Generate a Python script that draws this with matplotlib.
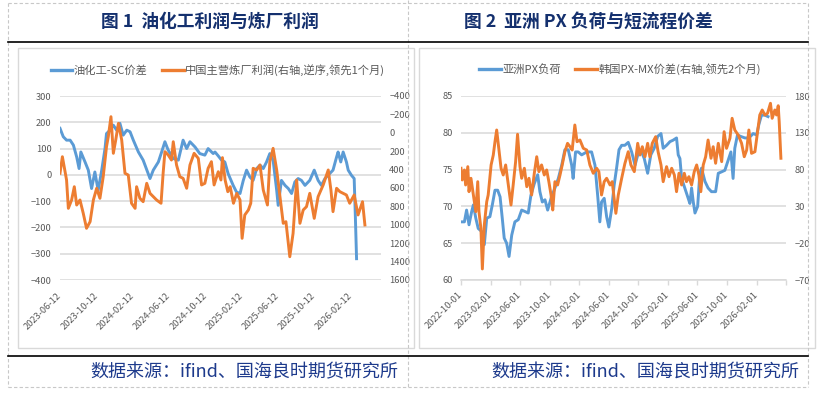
import matplotlib
matplotlib.use("Agg")
import matplotlib.pyplot as plt
import pandas as pd
from matplotlib.lines import Line2D
from matplotlib.patches import Rectangle

plt.rcParams["font.family"] = ["Noto Sans CJK SC", "DejaVu Sans"]

############ Data: 图1 油化工利润与炼厂利润
spread_dates = [
    "2023-06-12", "2023-06-23", "2023-07-04", "2023-07-16", "2023-07-27", "2023-08-07",
    "2023-08-15", "2023-08-21", "2023-09-04", "2023-09-15", "2023-09-26", "2023-10-07",
    "2023-10-18", "2023-10-30", "2023-11-10", "2023-11-15", "2023-11-27", "2023-12-08",
    "2023-12-19", "2023-12-30", "2024-01-10", "2024-01-22", "2024-02-02", "2024-02-13",
    "2024-03-01", "2024-03-17", "2024-04-09", "2024-04-20", "2024-05-07", "2024-05-18",
    "2024-05-29", "2024-06-09", "2024-06-26", "2024-07-13", "2024-07-29", "2024-08-10",
    "2024-08-21", "2024-09-07", "2024-09-23", "2024-10-10", "2024-10-21", "2024-11-07",
    "2024-11-13", "2024-11-24", "2024-12-05", "2024-12-16", "2024-12-27", "2025-01-13",
    "2025-01-24", "2025-02-05", "2025-02-16", "2025-02-27", "2025-03-10", "2025-03-21",
    "2025-04-02", "2025-04-13", "2025-04-24", "2025-05-05", "2025-05-16", "2025-05-27",
    "2025-06-08", "2025-06-13", "2025-06-24", "2025-07-06", "2025-07-17", "2025-07-28",
    "2025-08-08", "2025-08-19", "2025-08-30", "2025-09-11", "2025-09-27", "2025-10-12",
    "2025-10-25", "2025-11-05", "2025-11-17", "2025-12-03", "2025-12-14", "2025-12-26",
    "2025-12-31", "2026-01-09", "2026-01-17", "2026-01-28", "2026-02-03", "2026-02-14",
    "2026-02-23", "2026-02-27", "2026-03-03",
]
spread_vals = [
    177, 145, 132, 132, 113, 68,
    24, 87, 49, 18, -52, 11,
    -59, 18, 100, 157, 170, 189,
    170, 196, 151, 170, 164, 132,
    87, 56, -14, 18, 49, 87,
    126, 94, 62, 56, 132, 100,
    126, 106, 81, 75, 100, 81,
    87, 72, 56, 49, 5, -40,
    -65, -71, -21, 18, -8, -21,
    24, 37, 24, 49, 81, 56,
    -59, -116, -21, -40, -52, -71,
    -27, -14, -21, -40, -21, 18,
    -21, -40, -14, 5, 18, 68,
    87, 49, 87, 49, 18, -2,
    -14, -160, -319,
]

refinery_dates = [
    "2023-06-12", "2023-06-20", "2023-07-04", "2023-07-10", "2023-07-21", "2023-07-30",
    "2023-08-07", "2023-08-18", "2023-08-29", "2023-09-09", "2023-09-21", "2023-10-02",
    "2023-10-13", "2023-10-24", "2023-11-04", "2023-11-15", "2023-11-21", "2023-11-30",
    "2023-12-08", "2023-12-16", "2023-12-25", "2024-01-05", "2024-01-16", "2024-01-27",
    "2024-02-07", "2024-02-19", "2024-02-24", "2024-03-06", "2024-03-17", "2024-03-29",
    "2024-04-09", "2024-04-20", "2024-05-01", "2024-05-16", "2024-05-23", "2024-05-29",
    "2024-06-09", "2024-06-20", "2024-06-26", "2024-07-07", "2024-07-18", "2024-07-29",
    "2024-08-10", "2024-08-21", "2024-09-04", "2024-09-18", "2024-09-29", "2024-10-10",
    "2024-10-21", "2024-11-01", "2024-11-10", "2024-11-24", "2024-12-03", "2024-12-08",
    "2024-12-17", "2024-12-26", "2025-01-03", "2025-01-14", "2025-01-25", "2025-02-05",
    "2025-02-12", "2025-02-21", "2025-03-05", "2025-03-13", "2025-03-21", "2025-04-02",
    "2025-04-13", "2025-04-24", "2025-05-08", "2025-05-16", "2025-05-27", "2025-06-08",
    "2025-06-19", "2025-06-30", "2025-07-09", "2025-07-22", "2025-08-02", "2025-08-14",
    "2025-08-25", "2025-09-05", "2025-09-16", "2025-09-27", "2025-10-12", "2025-10-25",
    "2025-11-11", "2025-11-28", "2025-12-07", "2025-12-14", "2025-12-26", "2026-01-06",
    "2026-01-17", "2026-01-28", "2026-02-08", "2026-02-23", "2026-03-08", "2026-03-23",
    "2026-03-31",
]
refinery_vals = [
    440, 260, 513, 821, 730, 586,
    785, 730, 875, 1038, 966, 730,
    603, 712, 477, 151, 42, -175,
    223, 78, -103, 78, 440, 459,
    766, 821, 586, 712, 749, 549,
    658, 694, 730, 766, 440, 205,
    241, 296, 97, 350, 477, 495,
    603, 350, 223, 278, 567, 549,
    386, 314, 567, 423, 513, 270,
    513, 640, 586, 766, 658, 730,
    1147, 893, 839, 766, 386, 404,
    350, 622, 785, 314, 169, 404,
    694, 984, 966, 1347, 1093, 513,
    984, 839, 803, 658, 930, 694,
    567, 404, 622, 857, 603, 640,
    658, 676, 766, 676, 893, 749,
    1002,
]
left_xticks = ["2023-06-12", "2023-10-12", "2024-02-12", "2024-06-12", "2024-10-12",
               "2025-02-12", "2025-06-12", "2025-10-12", "2026-02-12"]

############ Data: 图2 亚洲PX负荷与短流程价差
px_load_dates = [
    "2022-10-01", "2022-10-15", "2022-10-24", "2022-11-03", "2022-11-14", "2022-11-21",
    "2022-12-01", "2022-12-11", "2022-12-25", "2023-01-05", "2023-01-15", "2023-01-28",
    "2023-02-07", "2023-02-18", "2023-03-01", "2023-03-11", "2023-03-20", "2023-03-28",
    "2023-04-07", "2023-04-17", "2023-04-28", "2023-05-11", "2023-05-25", "2023-06-08",
    "2023-06-22", "2023-07-05", "2023-07-16", "2023-07-30", "2023-08-13", "2023-08-22",
    "2023-09-01", "2023-09-12", "2023-09-23", "2023-10-07", "2023-10-23", "2023-11-06",
    "2023-11-20", "2023-12-03", "2023-12-17", "2023-12-31", "2024-01-06", "2024-01-16",
    "2024-01-27", "2024-02-10", "2024-03-02", "2024-03-22", "2024-04-05", "2024-04-16",
    "2024-04-25", "2024-05-02", "2024-05-13", "2024-05-23", "2024-06-01", "2024-06-13",
    "2024-06-23", "2024-07-03", "2024-07-13", "2024-07-24", "2024-08-06", "2024-08-20",
    "2024-09-03", "2024-09-17", "2024-09-30", "2024-10-14", "2024-10-25", "2024-11-08",
    "2024-11-21", "2024-12-05", "2024-12-19", "2025-01-02", "2025-01-11", "2025-01-25",
    "2025-02-08", "2025-02-21", "2025-03-07", "2025-03-14", "2025-03-21", "2025-03-28",
    "2025-04-10", "2025-04-24", "2025-05-01", "2025-05-08", "2025-05-15", "2025-05-22",
    "2025-06-02", "2025-06-11", "2025-06-18", "2025-07-02", "2025-07-15", "2025-07-29",
    "2025-08-15", "2025-08-26", "2025-09-09", "2025-09-22", "2025-10-06", "2025-10-17",
    "2025-10-26", "2025-11-02", "2025-11-13", "2025-11-27", "2025-12-14", "2025-12-30",
    "2026-01-17", "2026-01-31", "2026-02-09", "2026-02-20", "2026-03-06", "2026-03-19",
]
px_load_vals = [
    67.9, 67.9, 69.5, 67.5, 69.3, 70.2,
    68.4, 67.0, 66.6, 64.8, 68.4, 68.6,
    70.2, 72.2, 72.2, 71.3, 68.4, 65.7,
    65.0, 63.2, 66.1, 67.9, 68.2, 69.5,
    69.3, 69.1, 71.5, 73.1, 74.3, 72.0,
    70.6, 70.9, 69.5, 71.1, 72.5, 73.8,
    75.6, 77.7, 77.7, 75.6, 73.8, 77.4,
    77.4, 77.0, 77.4, 77.4, 75.6, 71.5,
    67.9, 70.6, 71.1, 68.6, 67.2, 69.7,
    72.9, 75.2, 77.7, 78.3, 78.3, 78.7,
    77.4, 75.6, 77.2, 77.4, 76.5, 74.5,
    77.0, 77.9, 79.5, 79.9, 77.9, 78.3,
    78.8, 79.0, 79.3, 77.0, 76.5, 73.8,
    72.5, 71.1, 70.4, 72.5, 70.6, 69.1,
    70.0, 74.5, 75.2, 73.4, 72.5, 72.0,
    72.0, 74.5, 74.7, 74.9, 76.3, 77.4,
    73.8, 77.9, 79.7, 79.5, 79.3, 79.3,
    79.9, 79.7, 81.1, 82.4, 82.4, 82.2,
]

pxmx_dates = [
    "2022-10-01", "2022-10-06", "2022-10-15", "2022-10-20", "2022-10-29", "2022-11-03",
    "2022-11-11", "2022-11-21", "2022-12-01", "2022-12-09", "2022-12-14", "2022-12-22",
    "2022-12-28", "2023-01-05", "2023-01-15", "2023-01-21", "2023-02-02", "2023-02-11",
    "2023-02-18", "2023-02-25", "2023-03-04", "2023-03-15", "2023-03-24", "2023-04-03",
    "2023-04-14", "2023-04-25", "2023-05-04", "2023-05-14", "2023-05-22", "2023-06-01",
    "2023-06-08", "2023-06-19", "2023-06-29", "2023-07-08", "2023-07-19", "2023-07-30",
    "2023-08-09", "2023-08-18", "2023-08-29", "2023-09-09", "2023-09-19", "2023-09-28",
    "2023-10-07", "2023-10-14", "2023-10-23", "2023-11-03", "2023-11-13", "2023-11-22",
    "2023-12-03", "2023-12-14", "2023-12-24", "2024-01-02", "2024-01-13", "2024-01-22",
    "2024-02-03", "2024-02-17", "2024-03-02", "2024-03-15", "2024-03-29", "2024-04-12",
    "2024-04-21", "2024-05-02", "2024-05-13", "2024-05-23", "2024-06-06", "2024-06-15",
    "2024-06-23", "2024-06-30", "2024-07-10", "2024-07-24", "2024-08-06", "2024-08-20",
    "2024-08-31", "2024-09-14", "2024-09-28", "2024-10-07", "2024-10-17", "2024-10-28",
    "2024-11-08", "2024-11-17", "2024-11-27", "2024-12-11", "2024-12-21", "2025-01-02",
    "2025-01-11", "2025-01-25", "2025-02-04", "2025-02-15", "2025-02-26", "2025-03-07",
    "2025-03-17", "2025-03-28", "2025-04-08", "2025-04-17", "2025-04-27", "2025-05-08",
    "2025-05-19", "2025-05-29", "2025-06-07", "2025-06-15", "2025-06-25", "2025-07-05",
    "2025-07-15", "2025-07-27", "2025-08-05", "2025-08-15", "2025-08-26", "2025-09-09",
    "2025-09-19", "2025-09-29", "2025-10-13", "2025-10-22", "2025-11-02", "2025-11-16",
    "2025-11-30", "2025-12-11", "2025-12-21", "2025-12-30", "2026-01-10", "2026-01-24",
    "2026-02-04", "2026-02-13", "2026-02-23", "2026-03-06", "2026-03-17", "2026-03-29",
    "2026-04-05", "2026-04-16", "2026-04-23", "2026-04-30", "2026-05-04", "2026-05-11",
]
pxmx_vals = [
    81.8, 65.9, 79.5, 59.1, 84.0, 50.0,
    68.2, 45.5, 22.8, 63.6, 22.8, 0.2,
    -55.0, 4.7, 36.4, 45.5, 86.3, 99.8,
    117.9, 133.8, 113.4, 81.8, 72.7, 86.3,
    59.1, 31.9, 59.1, 90.8, 128.0, 84.0,
    68.2, 81.8, 56.8, 68.2, 45.5, 75.0,
    97.5, 77.2, 86.3, 72.7, 79.5, 63.6,
    45.5, 25.1, 63.6, 59.1, 72.7, 86.3,
    104.3, 115.7, 111.1, 106.6, 140.6, 117.9,
    120.2, 108.9, 106.6, 86.3, 75.0, 81.8,
    77.2, 45.5, 63.6, 68.2, 59.1, 63.6,
    41.0, 20.6, 45.5, 68.2, 88.0, 104.3,
    86.3, 77.2, 115.7, 99.8, 111.1, 97.5,
    115.7, 97.5, 115.7, 124.7, 104.3, 86.3,
    63.6, 84.0, 70.4, 81.8, 72.7, 50.0,
    75.0, 59.1, 75.0, 63.6, 70.4, 59.1,
    77.2, 86.3, 72.7, 50.0, 86.3, 97.5,
    120.2, 95.4, 111.1, 88.6, 115.7, 90.8,
    131.5, 108.9, 122.5, 149.7, 133.8, 127.0,
    115.7, 97.5, 106.6, 133.8, 102.1, 104.3,
    131.5, 154.2, 161.0, 154.2, 156.5, 170.1,
    149.7, 161.0, 154.2, 166.8, 145.1, 95.4,
]
right_xticks = ["2022-10-01", "2023-02-01", "2023-06-01", "2023-10-01", "2024-02-01",
                "2024-06-01", "2024-10-01", "2025-02-01", "2025-06-01", "2025-10-01",
                "2026-02-01"]

# --- Style ---
BLUE = "#5B9BD5"
ORANGE = "#ED7D31"
GRID = "#d9d9d9"
TICK_TEXT = "#595959"
TITLE_COLOR = "#14306e"
SOURCE_COLOR = "#1d3a8c"
LW = 2.1
TICK_FS = 6.7

W, H = 825, 396
fig = plt.figure(figsize=(W / 100, H / 100), dpi=100)


def fx(px):
    return px / W


def fy(py):
    return 1 - py / H


def add_ax(x0, y0, x1, y1):
    return fig.add_axes([fx(x0), fy(y1), (x1 - x0) / W, (y1 - y0) / H])


def hline(y, x0, x1, **kw):
    fig.add_artist(Line2D([fx(x0), fx(x1)], [fy(y), fy(y)], transform=fig.transFigure, **kw))


def vline(x, y0, y1, **kw):
    fig.add_artist(Line2D([fx(x), fx(x)], [fy(y0), fy(y1)], transform=fig.transFigure, **kw))


# --- page frame ---
dash = dict(color="#c8c8c8", lw=0.8, ls=(0, (3, 2)))
hline(3, 8, 808, **dash)
hline(387, 8, 808, **dash)
vline(8, 3, 387, **dash)
vline(408, 0, 387, **dash)
vline(808, 3, 387, **dash)
hline(42, 8, 808, color="black", lw=1.2)
hline(356, 8, 808, color="black", lw=1.2)
for x0, x1 in [(18, 414), (419, 815)]:
    fig.add_artist(Rectangle((fx(x0), fy(348)), (x1 - x0) / W, 300 / H,
                             transform=fig.transFigure, fill=False, ec=GRID, lw=1.0))


def style_axes(ax, ax2):
    for a in (ax, ax2):
        a.patch.set_visible(False)
        for s in a.spines.values():
            s.set_visible(False)
        a.tick_params(axis="y", length=0, labelsize=TICK_FS, labelcolor=TICK_TEXT, pad=6)
    ax.set_axisbelow(True)
    ax.grid(True, axis="y", color=GRID, lw=1.1)
    ax.grid(False, axis="x")


# --- Chart 1 ---
ax1 = add_ax(60, 96, 381, 280)
ax1b = ax1.twinx()
ax1.plot(pd.to_datetime(spread_dates), spread_vals, color=BLUE, lw=LW, solid_joinstyle="round")
ax1b.plot(pd.to_datetime(refinery_dates), refinery_vals, color=ORANGE, lw=LW, solid_joinstyle="round")
ax1.set_ylim(-400, 300)
ax1.set_yticks(range(-400, 301, 100))
ax1b.set_ylim(1600, -400)
ax1b.set_yticks(range(-400, 1601, 200))
ax1.set_xlim(pd.Timestamp("2023-06-12"), pd.Timestamp("2026-05-24"))
ax1.set_xticks(pd.to_datetime(left_xticks))
ax1.set_xticklabels(left_xticks)
style_axes(ax1, ax1b)
ax1.tick_params(axis="x", length=0, labelsize=TICK_FS, labelcolor=TICK_TEXT, pad=10)
plt.setp(ax1.get_xticklabels(), rotation=45, ha="right", va="center", rotation_mode="anchor")

# --- Chart 2 ---
ax2 = add_ax(461, 96, 786, 280)
ax2b = ax2.twinx()
ax2.plot(pd.to_datetime(px_load_dates), px_load_vals, color=BLUE, lw=LW, solid_joinstyle="round")
ax2b.plot(pd.to_datetime(pxmx_dates), pxmx_vals, color=ORANGE, lw=LW, solid_joinstyle="round")
ax2.set_ylim(60, 85)
ax2.set_yticks(range(60, 86, 5))
ax2b.set_ylim(-70, 180)
ax2b.set_yticks(range(-70, 181, 50))
ax2.set_xlim(pd.Timestamp("2022-10-01"), pd.Timestamp("2026-06-01"))
ax2.set_xticks(pd.to_datetime(right_xticks + ["2026-06-01"]))
ax2.set_xticklabels(right_xticks + [""])
style_axes(ax2, ax2b)
ax2.spines["bottom"].set_visible(True)
ax2.spines["bottom"].set_color(GRID)
ax2.spines["bottom"].set_linewidth(1.1)
ax2.tick_params(axis="x", length=3.5, width=1.0, color=GRID, direction="out",
                labelsize=TICK_FS, labelcolor=TICK_TEXT, pad=6)
plt.setp(ax2.get_xticklabels(), rotation=45, ha="right", va="center", rotation_mode="anchor")

# --- Legends ---
leg_kw = dict(loc="center", ncol=2, frameon=False, fontsize=8.1, handlelength=1.9,
              handletextpad=0.12, columnspacing=1.3, labelcolor="#595959")
fig.legend([Line2D([], [], color=BLUE, lw=2.4), Line2D([], [], color=ORANGE, lw=2.4)],
           ["油化工-SC价差", "中国主营炼厂利润(右轴,逆序,领先1个月)"],
           bbox_to_anchor=(fx(218), fy(70)), **leg_kw)
fig.legend([Line2D([], [], color=BLUE, lw=2.4), Line2D([], [], color=ORANGE, lw=2.4)],
           ["亚洲PX负荷", "韩国PX-MX价差(右轴,领先2个月)"],
           bbox_to_anchor=(fx(620), fy(69)), **leg_kw)

# --- Titles and sources ---
fig.text(fx(210), fy(22), "图 1  油化工利润与炼厂利润", ha="center", va="center",
         fontsize=12.8, fontweight="bold", color=TITLE_COLOR)
fig.text(fx(588), fy(22), "图 2  亚洲 PX 负荷与短流程价差", ha="center", va="center",
         fontsize=12.8, fontweight="bold", color=TITLE_COLOR)
for xr in (398, 799):
    fig.text(fx(xr), fy(372), "数据来源：ifind、国海良时期货研究所", ha="right", va="center",
             fontsize=13, style="italic", color=SOURCE_COLOR)

fig.savefig("out.png", dpi=100, facecolor="white")
plt.close(fig)
